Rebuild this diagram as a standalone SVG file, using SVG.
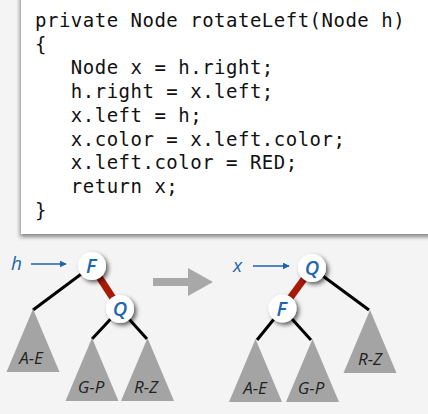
<svg xmlns="http://www.w3.org/2000/svg" width="428" height="414" viewBox="0 0 428 414">
<defs>
<filter id="boxShadow" x="-10%" y="-10%" width="120%" height="120%">
<feDropShadow dx="-1" dy="3" stdDeviation="2" flood-color="#000" flood-opacity="0.45"/>
</filter>
<filter id="nodeShadow" x="-50%" y="-50%" width="200%" height="200%">
<feDropShadow dx="2.5" dy="2.5" stdDeviation="2.2" flood-color="#000" flood-opacity="0.6"/>
</filter>
<marker id="blueArrow" viewBox="0 0 10 10" refX="9" refY="5" markerWidth="7" markerHeight="7" markerUnits="userSpaceOnUse" orient="auto">
<path d="M0,0 L10,5 L0,10 Z" fill="#1f63a8"/>
</marker>
<path id="tri" d="M0,0 L26.5,63 L-26.5,63 Z"/>
</defs>
<style>
.code{font-family:"DejaVu Sans Mono",monospace;font-size:19px;letter-spacing:0.5px;fill:#111;}
.node{fill:#fff;filter:url(#nodeShadow);}
.nlabel{font-family:"Open Sans","Noto Sans",sans-serif;font-style:italic;font-weight:600;font-size:20px;fill:#1f66ac;text-anchor:middle;}
.ptr{font-family:"Open Sans","Noto Sans",sans-serif;font-style:italic;font-weight:500;font-size:19px;fill:#1f66ac;}
.ptrline{stroke:#1f63a8;stroke-width:1.4;fill:none;marker-end:url(#blueArrow);}
.black{stroke:#000;stroke-width:3;fill:none;}
.red{stroke:#a81a08;stroke-width:7;fill:none;}
.subtree{fill:#a4a4a4;}
.tlabel{font-family:"Open Sans","Noto Sans",sans-serif;font-style:italic;font-weight:500;font-size:17px;fill:#222;text-anchor:middle;}
</style>
<rect width="428" height="414" fill="#f4f4f4"/>
<g id="code">
<rect x="21" y="-10" width="430" height="244" fill="#fff" filter="url(#boxShadow)"/>
<text class="code" x="35" y="27">private Node rotateLeft(Node h)</text>
<text class="code" x="35" y="50.7">{</text>
<text class="code" x="35" y="74.4" xml:space="preserve">   Node x = h.right;</text>
<text class="code" x="35" y="98.1" xml:space="preserve">   h.right = x.left;</text>
<text class="code" x="35" y="121.8" xml:space="preserve">   x.left = h;</text>
<text class="code" x="35" y="145.5" xml:space="preserve">   x.color = x.left.color;</text>
<text class="code" x="35" y="169.2" xml:space="preserve">   x.left.color = RED;</text>
<text class="code" x="35" y="192.9" xml:space="preserve">   return x;</text>
<text class="code" x="35" y="216.6">}</text>
</g>
<g id="connectors">
<line class="black" x1="92" y1="266" x2="33" y2="310"/>
<line class="red" x1="92" y1="266" x2="120" y2="309"/>
<line class="black" x1="120" y1="309" x2="92" y2="339"/>
<line class="black" x1="120" y1="309" x2="147" y2="339"/>
<line class="ptrline" x1="31" y1="264" x2="66" y2="264"/>
<line class="black" x1="312" y1="268" x2="369" y2="310"/>
<line class="red" x1="312" y1="268" x2="282.5" y2="308.5"/>
<line class="black" x1="282.5" y1="308.5" x2="257" y2="340"/>
<line class="black" x1="282.5" y1="308.5" x2="311" y2="340"/>
<line class="ptrline" x1="253" y1="266" x2="289" y2="266"/>
</g>
<g id="left-tree">
<g id="L-AE"><use href="#tri" class="subtree" x="33" y="309"/><text class="tlabel" x="31" y="364">A-E</text></g>
<g id="L-GP"><use href="#tri" class="subtree" x="92" y="338"/><text class="tlabel" x="91" y="393">G-P</text></g>
<g id="L-RZ"><use href="#tri" class="subtree" x="147.5" y="338"/><text class="tlabel" x="146" y="393">R-Z</text></g>
<g id="L-F"><circle class="node" cx="92" cy="266" r="14"/><text class="nlabel" x="91" y="273">F</text></g>
<g id="L-Q"><circle class="node" cx="120" cy="309" r="14"/><text class="nlabel" x="120" y="316">Q</text></g>
<g id="L-h"><text class="ptr" x="11" y="270">h</text></g>
</g>
<g id="transform-arrow">
<path d="M153,278 L188,278 L188,268 L213,282 L188,296 L188,286 L153,286 Z" fill="#a8a8a8"/>
</g>
<g id="right-tree">
<g id="R-AE"><use href="#tri" class="subtree" x="255.5" y="339"/><text class="tlabel" x="255" y="394">A-E</text></g>
<g id="R-GP"><use href="#tri" class="subtree" x="312.5" y="339"/><text class="tlabel" x="311" y="394">G-P</text></g>
<g id="R-RZ"><use href="#tri" class="subtree" x="370" y="310"/><text class="tlabel" x="370" y="365">R-Z</text></g>
<g id="R-Q"><circle class="node" cx="312" cy="268" r="14"/><text class="nlabel" x="312" y="275">Q</text></g>
<g id="R-F"><circle class="node" cx="282.5" cy="308.5" r="14"/><text class="nlabel" x="281.5" y="315.5">F</text></g>
<g id="R-x"><text class="ptr" x="233" y="272">x</text></g>
</g>
</svg>
